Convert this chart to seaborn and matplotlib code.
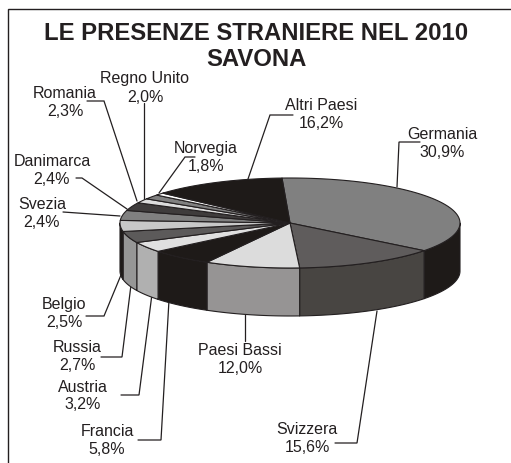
import numpy as np
import pandas as pd
import seaborn as sns
import matplotlib
matplotlib.use("Agg")
import matplotlib.pyplot as plt

# --- data ---
countries = ["Germania", "Svizzera", "Paesi Bassi", "Francia", "Austria", "Russia", "Belgio",
             "Svezia", "Danimarca", "Romania", "Regno Unito", "Norvegia", "Altri Paesi"]
shares = [30.9, 15.6, 12.0, 5.8, 3.2, 2.7, 2.5, 2.4, 2.4, 2.3, 2.0, 1.8, 16.2]
title_lines = ["LE PRESENZE STRANIERE NEL 2010", "SAVONA"]

# --- style ---
top_colors = ["#808080", "#5f5c5c", "#dcdcdc", "#1e1a18", "#e0e0e0", "#5c5a5a", "#c8c8c8",
              "#808080", "#3f3c3c", "#dcdcdc", "#808080", "#ffffff", "#1e1a18"]
side_colors = ["#1e1a18", "#484542", "#969494", "#1e1a18", "#b0b0b0", "#969696", "#1e1a18",
               "#808080", "#3f3c3c", "#dcdcdc", "#808080", "#ffffff", "#1e1a18"]
INK = "#231f20"

label_pos = {
    "Germania": (442, 135, 153), "Svizzera": (307, 430, 448), "Paesi Bassi": (240, 351, 369),
    "Francia": (107, 432, 450), "Austria": (83, 388, 405), "Russia": (77, 348, 366),
    "Belgio": (64, 305, 323), "Svezia": (42, 205, 223), "Danimarca": (52, 162, 180),
    "Romania": (65, 93, 111), "Regno Unito": (145, 79, 98), "Norvegia": (206, 149, 167),
    "Altri Paesi": (321, 106, 124),
}
leaders = {
    "Germania": [(397, 188), (399, 143), (420, 143)],
    "Svizzera": [(377, 312), (357, 444), (335, 444)],
    "Paesi Bassi": [(245, 315), (245, 342)],
    "Francia": [(169, 301), (161, 441), (138, 441)],
    "Austria": [(152, 295), (139, 396), (121, 396)],
    "Russia": [(131, 286), (122, 358), (101, 358)],
    "Belgio": [(121, 276), (104, 317), (86, 317)],
    "Svezia": [(120, 217), (63, 213)],
    "Danimarca": [(127, 210), (82, 179), (76, 179)],
    "Romania": [(137, 202), (104, 102), (87, 102)],
    "Regno Unito": [(144, 200), (144, 104)],
    "Norvegia": [(159, 194), (185, 158), (195, 158)],
    "Altri Paesi": [(248, 180), (270, 116), (293, 116)],
}

# geometry of the 3D projection (pixels)
CX, CY, RX, RY, DEPTH = 290, 224, 170, 45, 48
START = 92.7
PROJ_TRUE = [0, 111.2, 167.4, 210.6, 231.5, 243, 252.7, 261.7, 270.4, 279, 287.3, 294.5, 301, 360]
PROJ_SEEN = [0, 130.4, 179.2, 211.5, 233.1, 246.3, 261, 275.2, 288.3, 299, 304.7, 310.8, 313.8, 360]

df = pd.DataFrame({"country": countries, "share": shares})
edges = np.concatenate([[0], np.cumsum(df["share"])]) / df["share"].sum() * 360
seen = START - np.interp(edges, PROJ_TRUE, PROJ_SEEN)

sns.set_theme(style="white", rc={"font.family": ["Liberation Sans", "DejaVu Sans"]})
fig = plt.figure(figsize=(5.11, 4.64), dpi=100)
ax = fig.add_axes([0, 0, 1, 1])
ax.set_xlim(0, 511)
ax.set_ylim(464, 0)
ax.axis("off")
tops = sns.color_palette(top_colors, len(top_colors))
sides = sns.color_palette(side_colors, len(side_colors))


def rim(a, b, dy=0):
    t = np.radians(np.linspace(a, b, 80))
    return CX + RX * np.cos(t), CY - RY * np.sin(t) + dy


# frame: top and left rules only
ax.plot([8, 8, 511], [464, 10, 10], color=INK, lw=1.0, solid_joinstyle="miter", zorder=1)

# side walls
for i in range(len(countries)):
    a, b = seen[i], seen[i + 1]
    lo, hi = max(b, -180), min(a, 0)
    if lo >= hi:
        continue
    x, y = rim(hi, lo)
    x2, y2 = rim(lo, hi, DEPTH)
    ax.fill(np.r_[x, x2], np.r_[y, y2], facecolor=sides[i], edgecolor=INK, lw=0.8,
            joinstyle="round", zorder=2)

# top faces
for i in range(len(countries)):
    x, y = rim(seen[i], seen[i + 1])
    ax.fill(np.r_[CX, x], np.r_[CY, y], facecolor=tops[i], edgecolor=INK, lw=0.8,
            joinstyle="round", zorder=3)

# leaders and labels
for name, share in zip(df["country"], df["share"]):
    pts = np.array(leaders[name])
    ax.plot(pts[:, 0], pts[:, 1], color=INK, lw=0.9, solid_joinstyle="miter", zorder=1.5)
    lx, y1, y2 = label_pos[name]
    pct = f"{share:.1f}%".replace(".", ",")
    ax.text(lx, y1, name, ha="center", va="center", fontsize=11.5, color=INK, zorder=5)
    ax.text(lx, y2, pct, ha="center", va="center", fontsize=11.5, color=INK, zorder=5)

ax.text(256, 33, title_lines[0], ha="center", va="center", fontsize=17.2, fontweight="bold", color=INK)
ax.text(256, 60, title_lines[1], ha="center", va="center", fontsize=17.2, fontweight="bold", color=INK)

fig.savefig("out.png", dpi=100, facecolor="white")
